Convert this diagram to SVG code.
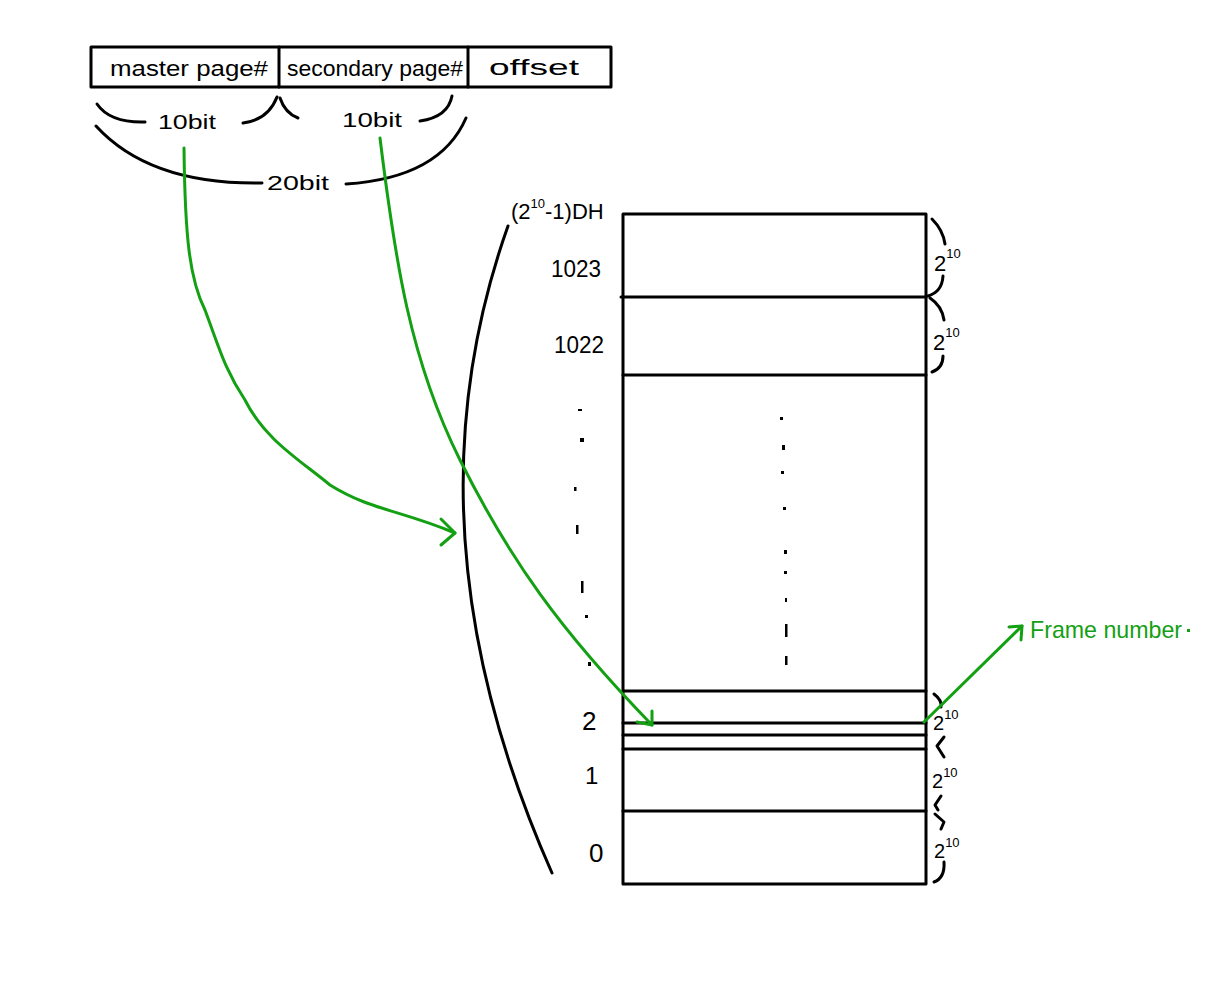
<svg xmlns="http://www.w3.org/2000/svg" width="1206" height="1000" viewBox="0 0 1206 1000">
<style>
.k{fill:none;stroke:#000;stroke-width:3;stroke-linecap:round;stroke-linejoin:round}
.g{fill:none;stroke:#13a013;stroke-width:3;stroke-linecap:round;stroke-linejoin:round}
.t{font-family:"Liberation Sans",Arial,sans-serif;fill:#000}
.s{font-size:13px}
.gt{font-family:"Liberation Sans",Arial,sans-serif;fill:#13a013}
.dot{fill:#000}
</style>
<rect width="1206" height="1000" fill="#fff"/>

<g id="address">
  <rect x="91" y="47" width="520" height="40" class="k"/>
  <line x1="279" y1="47" x2="279" y2="87" class="k"/>
  <line x1="468" y1="47" x2="468" y2="87" class="k"/>
  <text class="t" x="110" y="76" font-size="22" textLength="158" lengthAdjust="spacingAndGlyphs">master page#</text>
  <text class="t" x="287" y="76" font-size="22" textLength="176" lengthAdjust="spacingAndGlyphs">secondary page#</text>
  <text class="t" x="489" y="75" font-size="22" textLength="90" lengthAdjust="spacingAndGlyphs">offset</text>
</g>

<g id="braces-top">
  <path class="k" d="M97,104 Q110,123 145,122"/>
  <text class="t" x="158" y="129" font-size="20" textLength="58" lengthAdjust="spacingAndGlyphs">10bit</text>
  <path class="k" d="M243,123 Q268,120 277,97"/>
  <path class="k" d="M280,98 Q285,113 298,118"/>
  <text class="t" x="342" y="127" font-size="20" textLength="60" lengthAdjust="spacingAndGlyphs">10bit</text>
  <path class="k" d="M420,121 Q448,117 452,96"/>
  <path class="k" d="M96,126 Q150,185 262,183"/>
  <text class="t" x="267" y="190" font-size="20" textLength="62" lengthAdjust="spacingAndGlyphs">20bit</text>
  <path class="k" d="M346,184 Q440,178 466,118"/>
</g>

<g id="table">
  <rect x="623" y="214" width="303" height="670" class="k"/>
  <line x1="621" y1="297" x2="926" y2="297" class="k"/>
  <line x1="623" y1="375" x2="926" y2="375" class="k"/>
  <line x1="623" y1="691" x2="926" y2="691" class="k"/>
  <line x1="623" y1="723" x2="926" y2="723" class="k"/>
  <line x1="623" y1="735" x2="926" y2="735" class="k"/>
  <line x1="623" y1="749" x2="926" y2="749" class="k"/>
  <line x1="623" y1="811" x2="926" y2="811" class="k"/>
  <g class="dot">
    <rect x="780" y="417" width="3" height="3"/>
    <rect x="782" y="445" width="3" height="5"/>
    <rect x="781" y="471" width="3" height="3"/>
    <rect x="783" y="507" width="3" height="3"/>
    <rect x="784" y="550" width="3" height="4"/>
    <rect x="784" y="571" width="3" height="3"/>
    <rect x="785" y="598" width="2" height="4"/>
    <rect x="785" y="624" width="2.5" height="13"/>
    <rect x="785" y="656" width="2.5" height="9"/>
    <rect x="578" y="409" width="4" height="2"/>
    <rect x="580" y="438" width="4" height="4"/>
    <rect x="574" y="487" width="2.5" height="4"/>
    <rect x="576" y="525" width="2.5" height="9"/>
    <rect x="581" y="581" width="2.5" height="12"/>
    <rect x="585" y="615" width="3" height="3"/>
    <rect x="588" y="662" width="3" height="4"/>
  </g>
</g>

<g id="row-labels">
  <text class="t" x="511" y="219" font-size="22">(2<tspan class="s" dy="-11">10</tspan><tspan dy="11">-1)DH</tspan></text>
  <text class="t" x="551" y="277" font-size="23" textLength="50" lengthAdjust="spacingAndGlyphs">1023</text>
  <text class="t" x="554" y="353" font-size="23" textLength="50" lengthAdjust="spacingAndGlyphs">1022</text>
  <text class="t" x="582" y="730" font-size="26">2</text>
  <text class="t" x="585" y="784" font-size="24">1</text>
  <text class="t" x="589" y="862" font-size="26">0</text>
</g>

<g id="left-arc">
  <path class="k" d="M508,226 Q400,530 552,873"/>
</g>

<g id="size-braces">
  <path class="k" d="M932,219 Q943,230 945,244"/>
  <path class="k" d="M943,276 Q942,292 928,296"/>
  <text class="t" x="934" y="271" font-size="22">2<tspan class="s" dy="-13">10</tspan></text>
  <path class="k" d="M930,298 Q942,306 944,320"/>
  <path class="k" d="M943,356 Q943,368 932,372"/>
  <text class="t" x="933" y="350" font-size="22">2<tspan class="s" dy="-13">10</tspan></text>
  <path class="k" d="M934,694 Q942,700 941,707"/>
  <text class="t" x="933" y="730" font-size="20">2<tspan class="s" dy="-11">10</tspan></text>
  <path class="k" d="M944,737 L937,746 L944,757"/>
  <text class="t" x="932" y="788" font-size="20">2<tspan class="s" dy="-11">10</tspan></text>
  <path class="k" d="M941,796 L935,805 L938,810"/>
  <path class="k" d="M935,814 L944,822 L941,829"/>
  <text class="t" x="934" y="858" font-size="20">2<tspan class="s" dy="-11">10</tspan></text>
  <path class="k" d="M944,862 Q945,878 934,882"/>
</g>

<g id="connectors">
  <path class="g" d="M184,148 C185,240 190,280 205,310 C220,350 225,370 245,400 C265,440 300,460 330,485 C370,510 400,510 455,533"/>
  <path class="g" d="M441,519 L455,533 L441,545"/>
  <path class="g" d="M380,138 C395,260 410,360 460,460 C510,560 560,630 652,725"/>
  <path class="g" d="M652,711 L652,725 L637,722"/>
  <path class="g" d="M924,722 L1022,626"/>
  <path class="g" d="M1009,627 L1022,626 L1021,640"/>
  <text class="gt" x="1030" y="638" font-size="24" textLength="152" lengthAdjust="spacingAndGlyphs">Frame number</text>
  <rect x="1187" y="629" width="3" height="3" fill="#13a013"/>
</g>
</svg>
